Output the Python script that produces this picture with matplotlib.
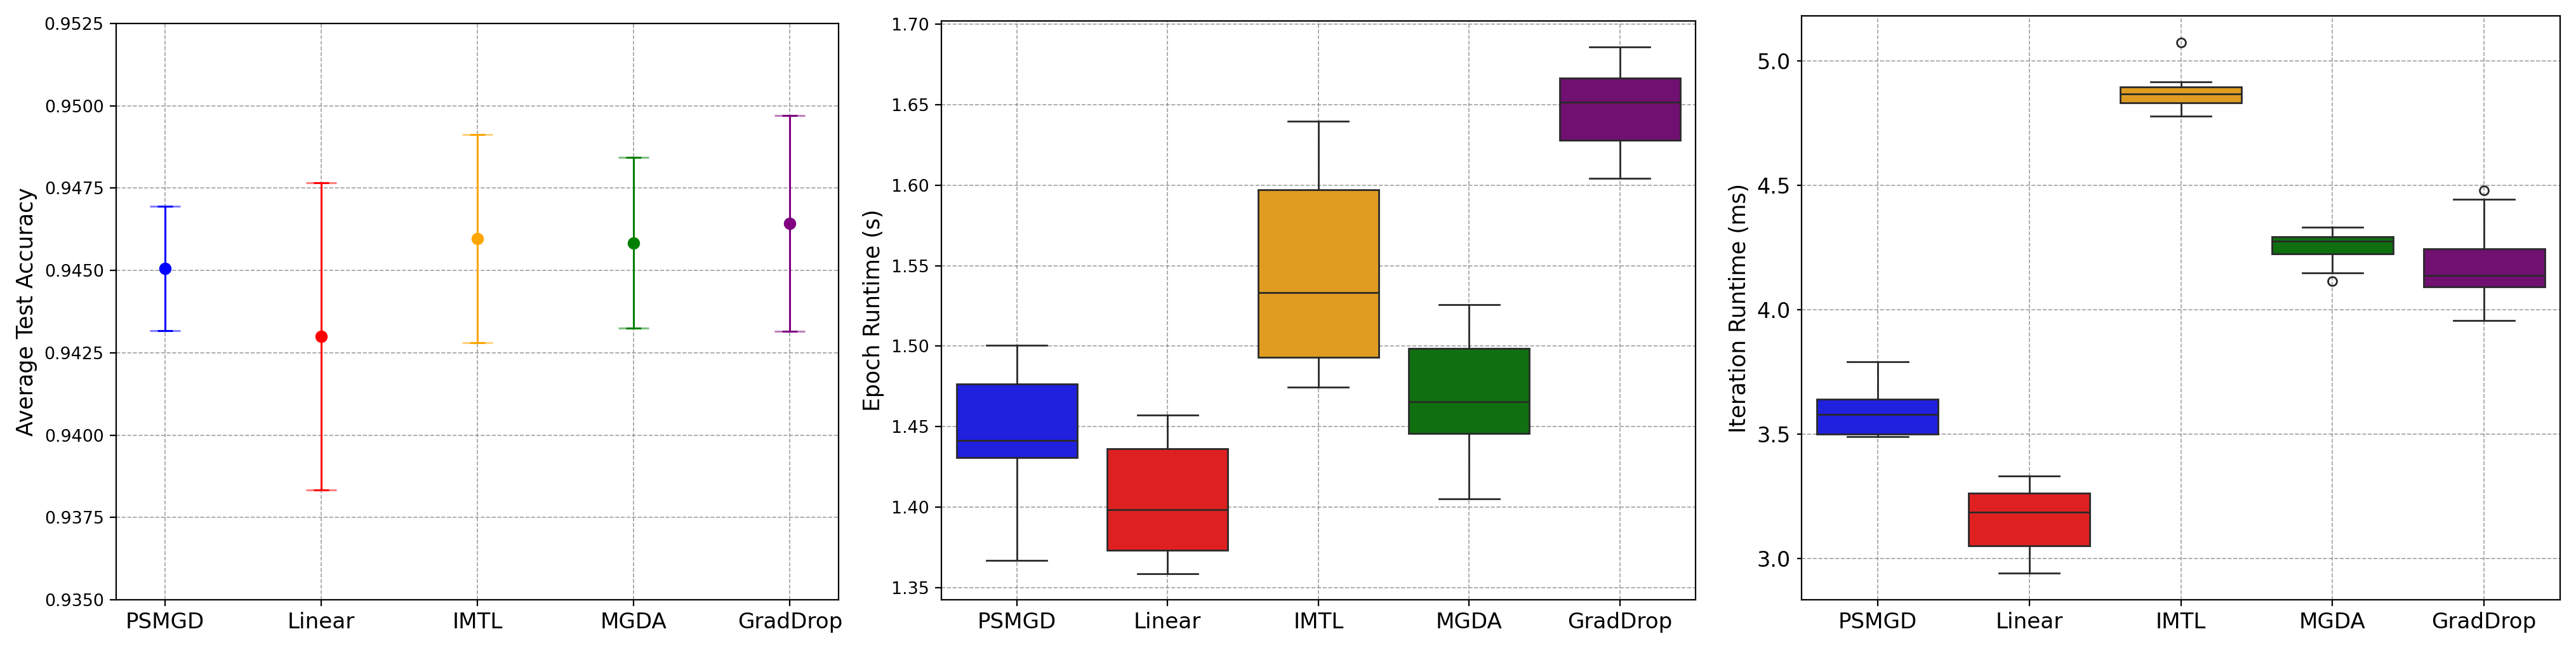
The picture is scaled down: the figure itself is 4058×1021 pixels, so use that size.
import matplotlib
matplotlib.use("Agg")
import matplotlib.pyplot as plt
import colorsys
from matplotlib.colors import to_rgb

# ---------------- data ----------------
methods = ['PSMGD', 'Linear', 'IMTL', 'MGDA', 'GradDrop']
colors = ['blue', 'red', 'orange', 'green', 'purple']

acc_mean = [0.94506, 0.94300, 0.94596, 0.94584, 0.94643]
acc_err = [0.00189, 0.00466, 0.00316, 0.00259, 0.00328]
acc_yticks = [0.9350, 0.9375, 0.9400, 0.9425, 0.9450, 0.9475, 0.9500, 0.9525]

epoch_whislo = [1.3669, 1.3590, 1.4746, 1.4051, 1.6041]
epoch_q1 = [1.4310, 1.3733, 1.4931, 1.4459, 1.6277]
epoch_med = [1.4415, 1.3985, 1.5331, 1.4656, 1.6515]
epoch_q3 = [1.4767, 1.4362, 1.5969, 1.4985, 1.6664]
epoch_whishi = [1.5005, 1.4572, 1.6395, 1.5259, 1.6856]
epoch_fliers = [[], [], [], [], []]

iter_whislo = [3.4908, 2.9418, 4.7787, 4.1481, 3.9584]
iter_q1 = [3.5008, 3.0516, 4.8319, 4.2246, 4.0915]
iter_med = [3.5790, 3.1880, 4.8669, 4.2762, 4.1381]
iter_q3 = [3.6406, 3.2646, 4.8952, 4.2945, 4.2463]
iter_whishi = [3.7903, 3.3328, 4.9168, 4.3328, 4.4443]
iter_fliers = [[], [], [5.0749], [4.1148], [4.4792]]


def desaturate(c, prop=0.75):
    h, l, s = colorsys.rgb_to_hls(*to_rgb(c))
    return colorsys.hls_to_rgb(h, l, s * prop)


box_colors = [desaturate(c) for c in colors]
line_gray = '#292929'

W, H, DPI = 4058, 1021, 200
fig = plt.figure(figsize=(W / DPI, H / DPI), dpi=DPI)


def px_axes(left, right, top, bottom):
    return fig.add_axes([left / W, (H - bottom) / H, (right - left) / W, (bottom - top) / H])


ax1 = px_axes(183.3, 1320.7, 37, 945)
ax2 = px_axes(1483, 2670.7, 32.7, 945)
ax3 = px_axes(2838.3, 4032.7, 25, 945)

grid_kw = dict(linestyle='--', color='gray', linewidth=0.6, alpha=0.75)

# ---------------- panel 1: error bars ----------------
xpos = list(range(len(methods)))
for i, (m, e, c) in enumerate(zip(acc_mean, acc_err, colors)):
    ax1.errorbar(i, m, yerr=e, fmt='none', ecolor=c, elinewidth=0,
                 capsize=8.75, capthick=1.1, alpha=0.5, zorder=3)
    ax1.errorbar(i, m, yerr=e, fmt='o', color=c, ecolor=c, elinewidth=1.1,
                 capsize=4.2, capthick=1.1, markersize=6, zorder=4)
ax1.set_xticks(xpos)
ax1.set_xticklabels(methods, fontsize=12.3)
ax1.set_xlim(-0.31, 4.31)
ax1.set_ylim(0.9350, 0.9525)
ax1.set_yticks(acc_yticks)
ax1.set_yticklabels([f'{v:.4f}' for v in acc_yticks], fontsize=9.7)
ax1.set_ylabel('Average Test Accuracy', fontsize=12.5)
ax1.set_axisbelow(True)
ax1.grid(True, **grid_kw)


# ---------------- box panels ----------------
def draw_boxes(ax, whislo, q1, med, q3, whishi, fliers):
    stats = []
    for k in range(len(methods)):
        stats.append(dict(label=methods[k], whislo=whislo[k], q1=q1[k], med=med[k],
                          q3=q3[k], whishi=whishi[k], fliers=fliers[k]))
    res = ax.bxp(stats, positions=xpos, widths=0.8, capwidths=0.4, patch_artist=True,
                 showfliers=True,
                 boxprops=dict(edgecolor=line_gray, linewidth=1.0),
                 medianprops=dict(color=line_gray, linewidth=1.0),
                 whiskerprops=dict(color=line_gray, linewidth=1.0),
                 capprops=dict(color=line_gray, linewidth=1.0),
                 flierprops=dict(marker='o', markerfacecolor='none',
                                 markeredgecolor=line_gray, markersize=5,
                                 markeredgewidth=1.0))
    for patch, fc in zip(res['boxes'], box_colors):
        patch.set_facecolor(fc)
    ax.set_xlim(-0.5, 4.5)
    ax.set_xticks(xpos)
    ax.set_xticklabels(methods, fontsize=12.3)
    ax.set_axisbelow(True)
    ax.grid(True, **grid_kw)


draw_boxes(ax2, epoch_whislo, epoch_q1, epoch_med, epoch_q3, epoch_whishi, epoch_fliers)
ax2.autoscale(axis='y')
ax2.tick_params(axis='y', labelsize=9.7)
ax2.set_ylabel('Epoch Runtime (s)', fontsize=12.5)

draw_boxes(ax3, iter_whislo, iter_q1, iter_med, iter_q3, iter_whishi, iter_fliers)
ax3.autoscale(axis='y')
ax3.tick_params(axis='y', labelsize=12, length=2.7)
ax3.set_ylabel('Iteration Runtime (ms)', fontsize=12.5)

fig.savefig('out.png', dpi=DPI)
